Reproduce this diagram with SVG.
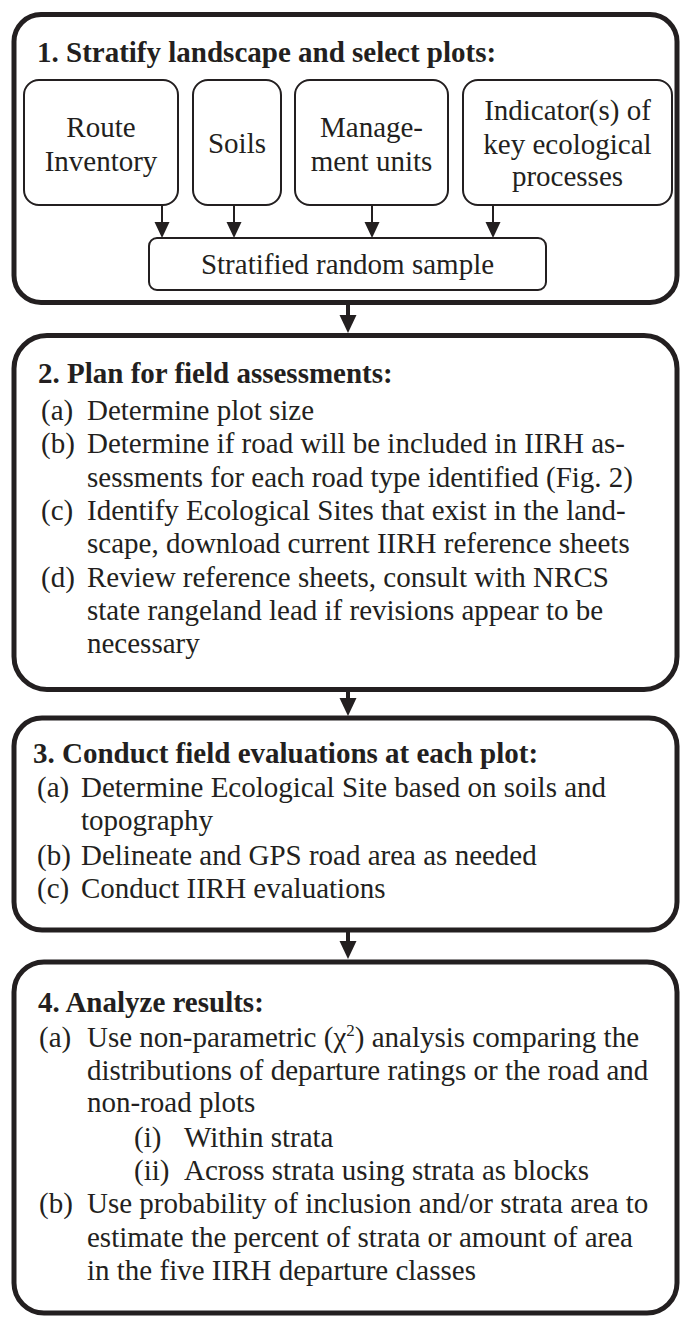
<svg xmlns="http://www.w3.org/2000/svg" width="680" height="1317" viewBox="0 0 680 1317">
<style>
.big{fill:#fff;stroke:#231f20;stroke-width:5}
.sub{fill:#fff;stroke:#231f20;stroke-width:2}
.t{font-family:"Liberation Serif","Times New Roman",serif;font-size:29px;fill:#231f20}
.h{font-family:"Liberation Serif","Times New Roman",serif;font-size:29px;font-weight:bold;fill:#231f20}
.c{text-anchor:middle}
.ln{stroke:#231f20;stroke-width:2;fill:none}
.lnb{stroke:#231f20;stroke-width:4;fill:none}
.ah{fill:#231f20}
</style>
<rect width="680" height="1317" fill="#fff"/>
<g id="step1">
<rect class="big" x="14" y="14.5" width="663" height="288" rx="27"/>
<text class="h" x="37" y="62">1. Stratify landscape and select plots:</text>
</g>
<g id="route">
<rect class="sub" x="24" y="80" width="154" height="125" rx="15"/>
<text class="t c" x="101" y="137">Route</text>
<text class="t c" x="101" y="171">Inventory</text>
</g>
<g id="soils">
<rect class="sub" x="193" y="80" width="88" height="125" rx="15"/>
<text class="t c" x="237" y="153">Soils</text>
</g>
<g id="management">
<rect class="sub" x="295" y="80" width="153" height="125" rx="15"/>
<text class="t c" x="371.5" y="137">Manage-</text>
<text class="t c" x="371.5" y="171">ment units</text>
</g>
<g id="indicator">
<rect class="sub" x="463" y="80" width="209" height="125" rx="15"/>
<text class="t c" x="567.5" y="120">Indicator(s) of</text>
<text class="t c" x="567.5" y="154">key ecological</text>
<text class="t c" x="567.5" y="186">processes</text>
</g>
<g id="sample">
<rect class="sub" x="149" y="238" width="397" height="52" rx="8"/>
<text class="t c" x="347.5" y="274">Stratified random sample</text>
</g>
<g id="step2">
<rect class="big" x="14" y="335.5" width="663" height="354" rx="33"/>
<text class="h" x="38" y="383">2. Plan for field assessments:</text>
<text class="t" x="41" y="420">(a)</text><text class="t" x="87" y="420">Determine plot size</text>
<text class="t" x="41" y="453">(b)</text><text class="t" x="87" y="453">Determine if road will be included in IIRH as-</text>
<text class="t" x="87" y="487">sessments for each road type identified (Fig. 2)</text>
<text class="t" x="41" y="520">(c)</text><text class="t" x="87" y="520">Identify Ecological Sites that exist in the land-</text>
<text class="t" x="87" y="553">scape, download current IIRH reference sheets</text>
<text class="t" x="41" y="587">(d)</text><text class="t" x="87" y="587">Review reference sheets, consult with NRCS</text>
<text class="t" x="87" y="620">state rangeland lead if revisions appear to be</text>
<text class="t" x="87" y="653">necessary</text>
</g>
<g id="step3">
<rect class="big" x="14" y="718" width="663" height="212" rx="28"/>
<text class="h" x="33" y="763">3. Conduct field evaluations at each plot:</text>
<text class="t" x="37" y="797">(a)</text><text class="t" x="81" y="797">Determine Ecological Site based on soils and</text>
<text class="t" x="81" y="830">topography</text>
<text class="t" x="37" y="865">(b)</text><text class="t" x="81" y="865">Delineate and GPS road area as needed</text>
<text class="t" x="37" y="898">(c)</text><text class="t" x="81" y="898">Conduct IIRH evaluations</text>
</g>
<g id="step4">
<rect class="big" x="14" y="962" width="663" height="351" rx="30"/>
<text class="h" x="38" y="1012">4. Analyze results:</text>
<text class="t" x="39" y="1047">(a)</text><text class="t" x="87" y="1047">Use non-parametric (χ<tspan font-size="17" dy="-11">2</tspan><tspan dy="11">) analysis comparing the</tspan></text>
<text class="t" x="87" y="1080">distributions of departure ratings or the road and</text>
<text class="t" x="87" y="1112">non-road plots</text>
<text class="t" x="134" y="1147">(i)</text><text class="t" x="184" y="1147">Within strata</text>
<text class="t" x="134" y="1180">(ii)</text><text class="t" x="184" y="1180">Across strata using strata as blocks</text>
<text class="t" x="39" y="1213">(b)</text><text class="t" x="87" y="1213">Use probability of inclusion and/or strata area to</text>
<text class="t" x="87" y="1247">estimate the percent of strata or amount of area</text>
<text class="t" x="87" y="1280">in the five IIRH departure classes</text>
</g>
<g id="connectors">
<line class="ln" x1="162" y1="205" x2="162" y2="223"/><polygon class="ah" points="154.5,222 169.5,222 162,238"/>
<line class="ln" x1="234" y1="205" x2="234" y2="223"/><polygon class="ah" points="226.5,222 241.5,222 234,238"/>
<line class="ln" x1="372" y1="205" x2="372" y2="223"/><polygon class="ah" points="364.5,222 379.5,222 372,238"/>
<line class="ln" x1="493" y1="205" x2="493" y2="223"/><polygon class="ah" points="485.5,222 500.5,222 493,238"/>
<line class="lnb" x1="348" y1="302" x2="348" y2="317"/><polygon class="ah" points="339.5,315 356.5,315 348,333"/>
<line class="lnb" x1="348" y1="689" x2="348" y2="700"/><polygon class="ah" points="339.5,698 356.5,698 348,716"/>
<line class="lnb" x1="348" y1="930" x2="348" y2="943"/><polygon class="ah" points="339.5,941 356.5,941 348,959"/>
</g>
</svg>
